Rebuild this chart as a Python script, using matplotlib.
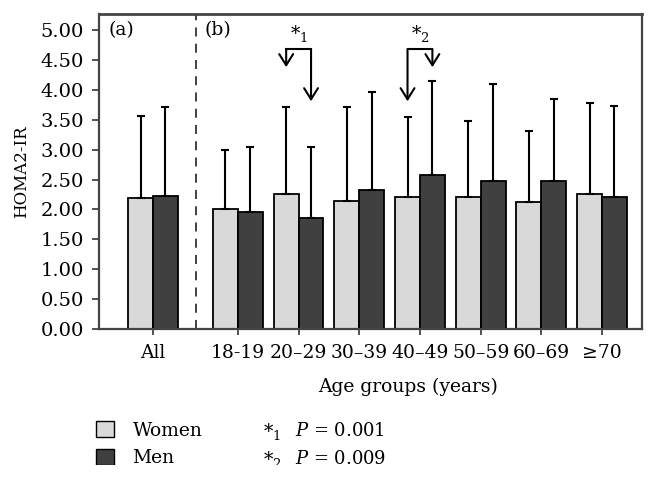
import matplotlib
matplotlib.use('Agg')
import matplotlib.pyplot as plt
import numpy as np

# data
groups = ['All', '18-19', '20\u201329', '30\u201339', '40\u201349', '50\u201359', '60\u201369', '\u226570']
women_mean = [2.19, 2.01, 2.26, 2.14, 2.20, 2.21, 2.13, 2.25]
men_mean = [2.23, 1.95, 1.85, 2.32, 2.58, 2.47, 2.47, 2.20]
women_top = [3.56, 2.99, 3.72, 3.71, 3.54, 3.48, 3.32, 3.78]
men_top = [3.71, 3.05, 3.04, 3.96, 4.15, 4.10, 3.85, 3.73]
p_labels = ['P = 0.001', 'P = 0.009']

plt.rcParams['font.family'] = ['DejaVu Serif']
plt.rcParams['mathtext.fontset'] = 'dejavuserif'

women_color = '#d9d9d9'
men_color = '#404040'
fs = 13.5

women_err = np.array(women_top) - np.array(women_mean)
men_err = np.array(men_top) - np.array(men_mean)

# "All" sits apart from the age groups
x = np.array([0] + [1.4 + i for i in range(len(groups) - 1)])
w = 0.41

fig = plt.figure(figsize=(6.56, 4.79), dpi=100)
ax = fig.add_axes([0.1509, 0.3132, 0.8278, 0.6576])

ebar = dict(ecolor='black', elinewidth=1.5, capsize=3, capthick=1.5)
ax.bar(x - w / 2, women_mean, w, color=women_color, edgecolor='black', linewidth=1.3,
       yerr=[np.zeros(len(x)), women_err], error_kw=ebar, label='Women', zorder=2)
ax.bar(x + w / 2, men_mean, w, color=men_color, edgecolor='black', linewidth=1.3,
       yerr=[np.zeros(len(x)), men_err], error_kw=ebar, label='Men', zorder=2)

ax.set_xlim(-0.89, 8.06)
ax.set_ylim(0, 5.27)
yt = np.arange(0, 5.01, 0.5)
ax.set_yticks(yt)
ax.set_yticklabels(['%.2f' % v for v in yt], fontsize=14)
ax.set_xticks(x)
ax.set_xticklabels(groups, fontsize=fs)
ax.tick_params(axis='y', direction='out', length=5, width=1.2, color='#333333', pad=6)
ax.tick_params(axis='x', direction='out', length=4, width=1.2, color='#333333', pad=7)
for s in ax.spines.values():
    s.set_color('#444444')
    s.set_linewidth(1.6)
ax.spines['top'].set_linewidth(2.0)

ax.set_ylabel('HOMA2-IR', fontsize=12, labelpad=7)
ax.set_xlabel('Age groups (years)', fontsize=fs, labelpad=10)
ax.xaxis.set_label_coords(0.569, -0.155)

# divider between panel (a) and (b)
ax.axvline(0.71, color='#333333', lw=1.3, ls=(0, (5, 4)))
ax.text(0.017, 0.948, '(a)', transform=ax.transAxes, fontsize=fs, va='center')
ax.text(0.195, 0.948, '(b)', transform=ax.transAxes, fontsize=fs, va='center')

# significance brackets
def bracket(i, left_tip, right_tip, label):
    xl = x[i] - w / 2
    xr = x[i] + w / 2
    yb = 4.68
    ax.plot([xl, xr], [yb, yb], color='black', lw=1.5, solid_capstyle='projecting')
    for xx, tip in [(xl, left_tip), (xr, right_tip)]:
        ax.annotate('', xy=(xx, tip), xytext=(xx, yb),
                    arrowprops=dict(arrowstyle='->, head_length=0.4, head_width=0.25',
                                    lw=1.5, color='black', mutation_scale=20,
                                    shrinkA=0, shrinkB=0))
    ax.text(x[i], 4.95, label, fontsize=fs, ha='center', va='center')

bracket(2, 4.38, 3.81, '*$_1$')
bracket(4, 3.81, 4.38, '*$_2$')

# legend
leg = fig.legend(loc='upper left', bbox_to_anchor=(96 / 656, 1 - 421 / 479),
                 frameon=False, fontsize=fs, handlelength=0.95, handleheight=0.95,
                 handletextpad=1.0, labelspacing=0.5, borderpad=0, borderaxespad=0)
for h in leg.legend_handles:
    h.set_linewidth(1.0)

fig.text(263 / 656, 1 - 431 / 479, '*$_1$', fontsize=fs, va='center')
fig.text(295 / 656, 1 - 431 / 479, '$P$' + p_labels[0][1:], fontsize=13, va='center')
fig.text(263 / 656, 1 - 459 / 479, '*$_2$', fontsize=fs, va='center')
fig.text(295 / 656, 1 - 459 / 479, '$P$' + p_labels[1][1:], fontsize=13, va='center')

# the source image is cut off just below the second legend row
fig.patches.append(plt.Rectangle((0, 0), 1, 14 / 479, transform=fig.transFigure,
                                 facecolor='white', edgecolor='none', zorder=10))

fig.savefig('out.png', dpi=100)
